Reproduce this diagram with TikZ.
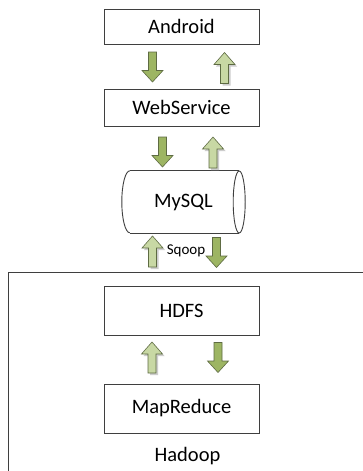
\documentclass[tikz,border=0pt]{standalone}
\usepackage{fontspec}
\setmainfont{Carlito}
\usetikzlibrary{calc}
\definecolor{boxline}{HTML}{3F3F3F}
\definecolor{arrline}{HTML}{5E6B43}
\definecolor{dnfill}{HTML}{9DB563}
\definecolor{upfill}{HTML}{C8D8A4}
\definecolor{shadowc}{HTML}{CDCDCD}
\tikzset{
  box/.style={draw=boxline, line width=0.9pt, minimum width=155pt, inner sep=0pt, font=\fontsize{20.5}{24}\selectfont},
  lbl/.style={inner sep=0pt, font=\fontsize{20.5}{24}\selectfont},
  small/.style={inner sep=0pt, font=\fontsize{15}{18}\selectfont},
  line/.style={draw=boxline, line width=0.9pt},
  dnarr/.pic={
    \filldraw[fill=dnfill, draw=arrline, line width=0.6pt]
      (-4,-15) -- (4,-15) -- (4,3.5) -- (10.5,3.5) -- (0,15) -- (-10.5,3.5) -- (-4,3.5) -- cycle;
  },
  uparr/.pic={
    \fill[shadowc, shift={(2,2)}]
      (-4,15.5) -- (4,15.5) -- (4,-3.5) -- (10.5,-3.5) -- (0,-15.5) -- (-10.5,-3.5) -- (-4,-3.5) -- cycle;
    \filldraw[fill=upfill, draw=arrline, line width=0.6pt]
      (-4,15.5) -- (4,15.5) -- (4,-3.5) -- (10.5,-3.5) -- (0,-15.5) -- (-10.5,-3.5) -- (-4,-3.5) -- cycle;
  }
}
\begin{document}
\begin{tikzpicture}[x=1pt,y=-1pt]
\useasboundingbox (0,0) rectangle (363,471);
\fill[white] (0,0) rectangle (363,471);

% boxes
\node[box, minimum height=35pt] (android) at (181.5,26.5) {Android};
\node[box, minimum height=37pt] (web) at (181.5,107.5) {WebService};
\node[inner sep=0pt, minimum width=123pt, minimum height=62pt, font=\fontsize{20.5}{24}\selectfont] (mysql) at (183.5,202) {MySQL};
\node[box, minimum height=49pt] (hdfs) at (181.5,310.5) {HDFS};
\node[box, minimum height=49pt] (mapred) at (181.5,408.5) {MapReduce};

% MySQL cylinder
\draw[line] ([xshift=8pt]mysql.north west) -- ([xshift=-6pt]mysql.north east);
\draw[line] ([xshift=8pt]mysql.south west) -- ([xshift=-6pt]mysql.south east);
\draw[line] ([xshift=8pt]mysql.north west) arc[start angle=90, end angle=270, x radius=8pt, y radius=31pt];
\draw[line] ([xshift=-6pt]mysql.east) ellipse [x radius=6pt, y radius=31pt];

% Hadoop container (runs off the right and bottom edges)
\coordinate (hadoopne) at (363,272);
\coordinate (hadoopnw) at (8,272);
\coordinate (hadoopsw) at (8,471);
\draw[line, line cap=butt] (hadoopne) -- (hadoopnw) -- (hadoopsw);
\node[lbl] (hadoop) at (187.5,456) {Hadoop};

% block arrows
\pic at (152.5,67) {dnarr};
\pic at (224.5,68) {uparr};
\pic at (162.5,152) {dnarr};
\pic at (213,152.5) {uparr};
\pic at (152.5,251.5) {uparr};
\pic at (216.5,252.5) {dnarr};
\node[small] (sqoop) at (186,251) {Sqoop};
\pic at (152,357.5) {uparr};
\pic at (218,357.5) {dnarr};
\end{tikzpicture}
\end{document}
